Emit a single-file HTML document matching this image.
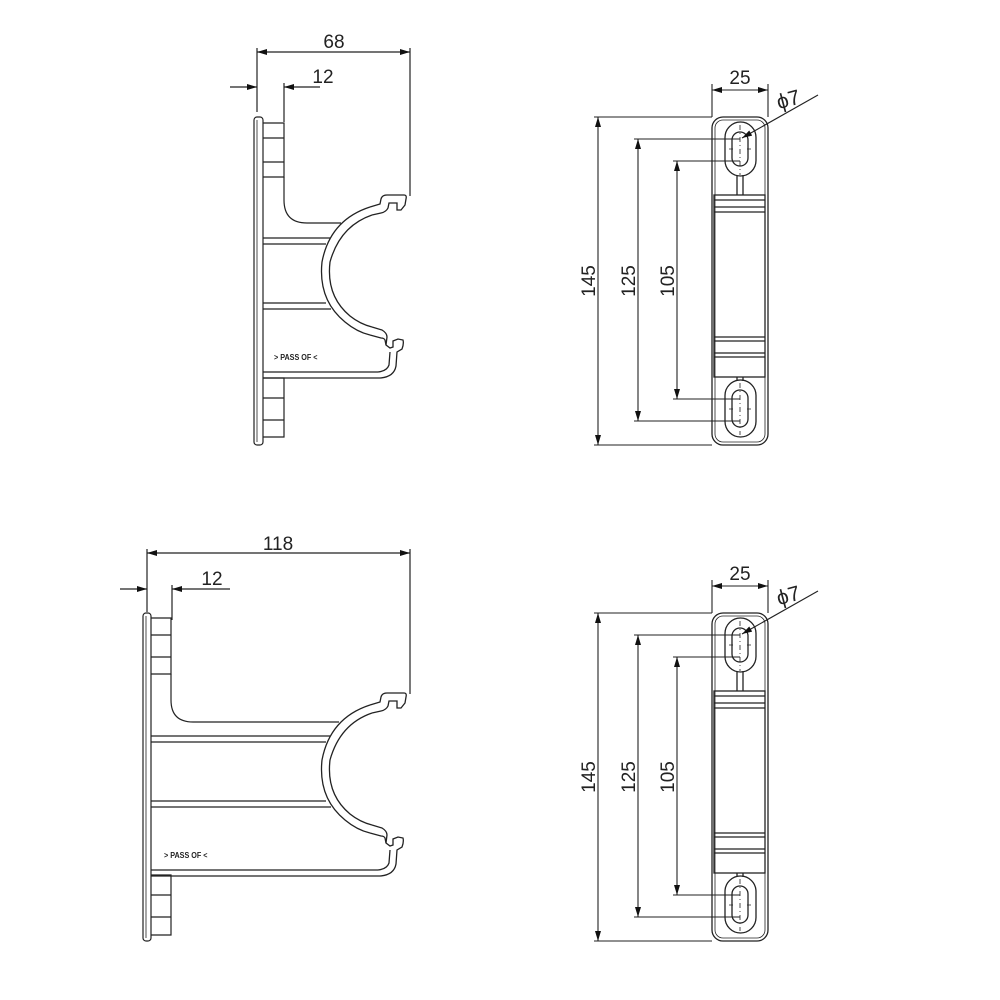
<!DOCTYPE html>
<html><head><meta charset="utf-8"><style>
html,body{margin:0;padding:0;background:#fff}
svg{display:block}
text{font-family:"Liberation Sans",sans-serif;fill:#222}
</style></head><body>
<svg width="1000" height="1000" viewBox="0 0 1000 1000" xmlns="http://www.w3.org/2000/svg">
<defs>
<marker id="a" viewBox="0 0 10 6" refX="10" refY="3" markerWidth="14" markerHeight="6" markerUnits="userSpaceOnUse" orient="auto-start-reverse"><path d="M0,0 L10,3 L0,6 z" fill="#111"/></marker>
<g id="arc">
 <path d="M370,207 L380,204 L381,199 Q382,195 387,195 L404,195 Q407,195 406,199 L405,205 L401,210 L397,210 L397,203 L389,203 L388,208 Q386,212 381,213 L372,215" fill="none" stroke="#222" stroke-width="1.3"/>
 <path d="M370,207 Q330,220 322,262 Q318,300 345,322 Q357,332 370,335" fill="none" stroke="#222" stroke-width="1.3"/>
 <path d="M372,215 Q340,226 330,262 Q326,296 350,316 Q360,324 372,327" fill="none" stroke="#222" stroke-width="1.3"/>
 <path d="M370,335 L381,338 Q384,338 385,340 L386,345 L390,348 L393,347 L393,341 L398,339 L403,340 Q404,344 402,349 L397,352 L396,366 Q394,377 380,378" fill="none" stroke="#222" stroke-width="1.3"/>
 <path d="M372,327 L382,330 Q387,333 387,337 L386,345" fill="none" stroke="#222" stroke-width="1.3"/>
 <path d="M390,352 L389,365 Q387,371 378,372" fill="none" stroke="#222" stroke-width="1.3"/>
</g>
<g id="rv" fill="none" stroke="#222" stroke-width="1.3">
 <rect x="712" y="117" width="56" height="328" rx="11"/>
 <rect x="715" y="120" width="50" height="322" rx="8" stroke-width="0.8"/>
 <rect x="725" y="122" width="31" height="54" rx="15.5"/>
 <rect x="732" y="132" width="16" height="34" rx="8"/>
 <path d="M737,175 L737,195 M743,175 L743,195"/>
 <rect x="714" y="195" width="51" height="182"/>
 <path d="M714,200 H765 M714,207 H765 M714,212 H765 M714,337 H765 M714,341 H765 M714,353 H765 M714,357 H765"/>
 <path d="M737,377 L737,381 M743,377 L743,381"/>
 <rect x="725" y="380" width="31" height="57" rx="15.5"/>
 <rect x="732" y="390" width="16" height="37" rx="8"/>
 <path d="M740,125 V175 M740,383 V435" stroke-dasharray="5,3,1,3" stroke-width="0.8"/>
 <path d="M729,149 H733 M747,149 H751 M729,409 H733 M747,409 H751" stroke-width="0.8"/>
</g>
</defs>

<g fill="none" stroke="#222" stroke-width="1.2">
 <path d="M257,48 V112 M284,83 V122 M410,48 V196"/>
 <line x1="257" y1="52" x2="410" y2="52" marker-start="url(#a)" marker-end="url(#a)"/>
 <line x1="230" y1="87" x2="257" y2="87" marker-end="url(#a)"/>
 <line x1="320" y1="87" x2="284" y2="87" marker-end="url(#a)"/>
 <rect x="254" y="117" width="9" height="328" rx="3"/>
 <line x1="257" y1="120" x2="257" y2="442" stroke-width="0.8"/>
 <path d="M263,123 H284 V177 H263 M263,138 H284 M263,162 H284"/>
 <path d="M263,378 H284 V437 H263 M263,398 H284 M263,420 H284"/>
 <path d="M284,177 V200 Q284,223 307,223 H341"/>
 <path d="M263,238 H330 M263,244 H326 M263,303 H326 M263,309 H331"/>
 <path d="M263,372 H378 M263,378 H380"/>
</g>
<use href="#arc"/>
<text x="334" y="48" font-size="19" text-anchor="middle">68</text>
<text x="323" y="83" font-size="19" text-anchor="middle">12</text>
<text x="274" y="360" font-size="8" font-weight="bold" transform="translate(274,0) scale(0.9,1) translate(-274,0)">&gt; PASS OF &lt;</text>

<g fill="none" stroke="#222" stroke-width="1.2">
 <path d="M147,549 V612 M172,585 V620 M410,549 V694"/>
 <line x1="147" y1="553" x2="410" y2="553" marker-start="url(#a)" marker-end="url(#a)"/>
 <line x1="120" y1="589" x2="147" y2="589" marker-end="url(#a)"/>
 <line x1="230" y1="589" x2="172" y2="589" marker-end="url(#a)"/>
 <rect x="143" y="613" width="8" height="328" rx="3"/>
 <line x1="146" y1="616" x2="146" y2="938" stroke-width="0.8"/>
 <path d="M151,618 H171 V674 H151 M151,635 H171 M151,657 H171"/>
 <path d="M151,875 H171 V935 H151 M151,895 H171 M151,917 H171"/>
 <path d="M171,674 V700 Q171,722 193,722 H339"/>
</g>
<g transform="translate(0,498)">
 <use href="#arc"/>
 <g fill="none" stroke="#222" stroke-width="1.2">
  <path d="M151,238 H330 M151,244 H326 M151,303 H326 M151,309 H331"/>
  <path d="M151,372 H378 M151,378 H380"/>
 </g>
</g>
<text x="278" y="550" font-size="19" text-anchor="middle">118</text>
<text x="212" y="585" font-size="19" text-anchor="middle">12</text>
<text x="164" y="858" font-size="8" font-weight="bold" transform="translate(164,0) scale(0.9,1) translate(-164,0)">&gt; PASS OF &lt;</text>

<g id="rdim">
<use href="#rv"/>
<g fill="none" stroke="#222" stroke-width="1.1">
 <path d="M594,117 H712 M594,445 H712 M634,139 H740 M634,421 H740 M673,161 H740 M673,399 H740 M712,84 V117 M768,84 V117"/>
 <line x1="598" y1="117" x2="598" y2="445" marker-start="url(#a)" marker-end="url(#a)"/>
 <line x1="638" y1="139" x2="638" y2="421" marker-start="url(#a)" marker-end="url(#a)"/>
 <line x1="677" y1="161" x2="677" y2="399" marker-start="url(#a)" marker-end="url(#a)"/>
 <line x1="712" y1="90" x2="768" y2="90" marker-start="url(#a)" marker-end="url(#a)"/>
 <line x1="818" y1="95" x2="742" y2="138" marker-end="url(#a)"/>
</g>
<text x="740" y="84" font-size="19" text-anchor="middle">25</text>
<text x="776" y="106" font-size="21" transform="rotate(-15 790 97)">ϕ7</text>
<text font-size="19" text-anchor="middle" transform="translate(595,281) rotate(-90)">145</text>
<text font-size="19" text-anchor="middle" transform="translate(635,281) rotate(-90)">125</text>
<text font-size="19" text-anchor="middle" transform="translate(674,281) rotate(-90)">105</text>
</g>
<use href="#rdim" transform="translate(0,496)"/>
</svg>
</body></html>
